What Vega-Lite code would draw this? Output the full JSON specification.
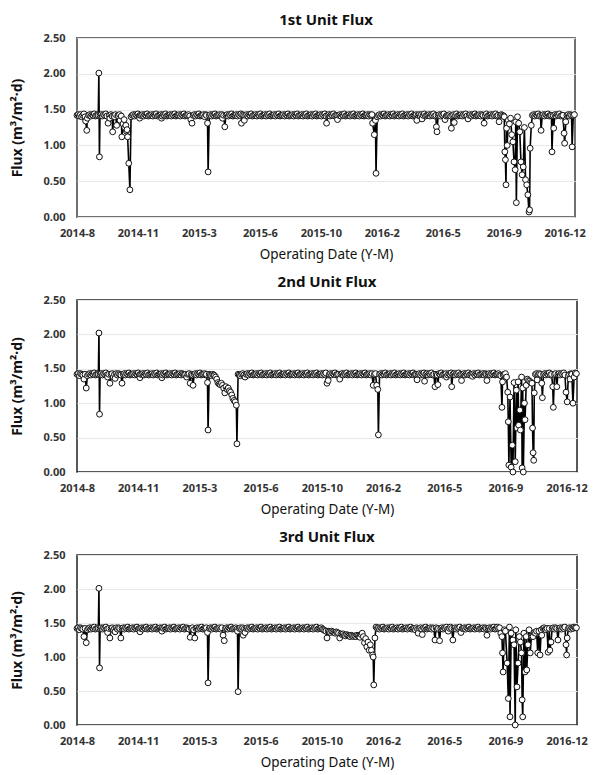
{
"$schema":"https://vega.github.io/schema/vega-lite/v6.json",
"background":"white",
"padding":{"left":9,"top":12,"right":5,"bottom":5},
"spacing":12,
"datasets":{
"p1":[{"d":0,"f":1.42},{"d":2,"f":1.43},{"d":4,"f":1.41},{"d":6,"f":1.43},{"d":8,"f":1.40},{"d":10,"f":1.42},{"d":12,"f":1.44},{"d":14,"f":1.40},{"d":15,"f":1.34},{"d":17,"f":1.21},{"d":18,"f":1.38},{"d":20,"f":1.42},{"d":22,"f":1.43},{"d":24,"f":1.41},{"d":26,"f":1.43},{"d":28,"f":1.42},{"d":30,"f":1.44},{"d":32,"f":1.41},{"d":34,"f":1.42},{"d":36,"f":1.43},{"d":37,"f":1.42},{"d":38,"f":2.01},{"d":39,"f":0.84},{"d":40,"f":1.42},{"d":42,"f":1.43},{"d":44,"f":1.41},{"d":46,"f":1.43},{"d":48,"f":1.42},{"d":50,"f":1.44},{"d":52,"f":1.41},{"d":54,"f":1.31},{"d":56,"f":1.42},{"d":57,"f":1.38},{"d":59,"f":1.43},{"d":61,"f":1.41},{"d":62,"f":1.19},{"d":64,"f":1.42},{"d":65,"f":1.40},{"d":67,"f":1.43},{"d":69,"f":1.28},{"d":71,"f":1.42},{"d":72,"f":1.41},{"d":74,"f":1.43},{"d":75,"f":1.35},{"d":77,"f":1.41},{"d":78,"f":1.12},{"d":80,"f":1.30},{"d":82,"f":1.36},{"d":83,"f":1.25},{"d":85,"f":1.28},{"d":86,"f":1.20},{"d":87,"f":1.22},{"d":88,"f":1.12},{"d":90,"f":0.75},{"d":92,"f":0.38},{"d":94,"f":1.40},{"d":96,"f":1.42},{"d":98,"f":1.43},{"d":100,"f":1.41},{"d":102,"f":1.43},{"d":104,"f":1.42},{"d":106,"f":1.44},{"d":108,"f":1.41},{"d":109,"f":1.38},{"d":110,"f":1.42},{"d":112,"f":1.42},{"d":114,"f":1.43},{"d":116,"f":1.41},{"d":118,"f":1.43},{"d":120,"f":1.42},{"d":122,"f":1.44},{"d":124,"f":1.41},{"d":126,"f":1.42},{"d":128,"f":1.42},{"d":130,"f":1.43},{"d":132,"f":1.41},{"d":134,"f":1.43},{"d":136,"f":1.42},{"d":138,"f":1.44},{"d":140,"f":1.41},{"d":142,"f":1.42},{"d":144,"f":1.42},{"d":146,"f":1.43},{"d":147,"f":1.38},{"d":148,"f":1.41},{"d":150,"f":1.43},{"d":152,"f":1.42},{"d":154,"f":1.44},{"d":156,"f":1.41},{"d":158,"f":1.42},{"d":160,"f":1.42},{"d":162,"f":1.43},{"d":164,"f":1.41},{"d":166,"f":1.43},{"d":168,"f":1.42},{"d":170,"f":1.44},{"d":172,"f":1.41},{"d":174,"f":1.42},{"d":176,"f":1.42},{"d":178,"f":1.43},{"d":180,"f":1.41},{"d":182,"f":1.43},{"d":184,"f":1.42},{"d":186,"f":1.44},{"d":188,"f":1.41},{"d":190,"f":1.42},{"d":192,"f":1.42},{"d":194,"f":1.43},{"d":196,"f":1.41},{"d":198,"f":1.36},{"d":200,"f":1.31},{"d":202,"f":1.42},{"d":204,"f":1.43},{"d":206,"f":1.41},{"d":208,"f":1.43},{"d":210,"f":1.42},{"d":212,"f":1.44},{"d":214,"f":1.41},{"d":216,"f":1.42},{"d":218,"f":1.42},{"d":220,"f":1.43},{"d":222,"f":1.40},{"d":224,"f":1.43},{"d":225,"f":1.42},{"d":227,"f":1.31},{"d":228,"f":0.63},{"d":230,"f":1.42},{"d":232,"f":1.43},{"d":234,"f":1.41},{"d":236,"f":1.43},{"d":238,"f":1.42},{"d":240,"f":1.44},{"d":242,"f":1.41},{"d":244,"f":1.42},{"d":246,"f":1.42},{"d":248,"f":1.43},{"d":250,"f":1.41},{"d":252,"f":1.43},{"d":253,"f":1.38},{"d":255,"f":1.42},{"d":257,"f":1.26},{"d":259,"f":1.42},{"d":261,"f":1.43},{"d":263,"f":1.41},{"d":265,"f":1.43},{"d":267,"f":1.42},{"d":269,"f":1.44},{"d":271,"f":1.41},{"d":273,"f":1.42},{"d":275,"f":1.42},{"d":277,"f":1.43},{"d":279,"f":1.41},{"d":281,"f":1.43},{"d":283,"f":1.42},{"d":285,"f":1.44},{"d":286,"f":1.31},{"d":288,"f":1.43},{"d":290,"f":1.42},{"d":291,"f":1.35},{"d":293,"f":1.42},{"d":295,"f":1.43},{"d":297,"f":1.41},{"d":299,"f":1.43},{"d":301,"f":1.42},{"d":303,"f":1.44},{"d":305,"f":1.41},{"d":307,"f":1.42},{"d":309,"f":1.42},{"d":311,"f":1.43},{"d":313,"f":1.41},{"d":315,"f":1.43},{"d":317,"f":1.42},{"d":319,"f":1.44},{"d":321,"f":1.41},{"d":323,"f":1.42},{"d":325,"f":1.42},{"d":327,"f":1.43},{"d":329,"f":1.41},{"d":331,"f":1.43},{"d":333,"f":1.42},{"d":335,"f":1.44},{"d":337,"f":1.41},{"d":339,"f":1.42},{"d":341,"f":1.42},{"d":343,"f":1.43},{"d":345,"f":1.41},{"d":347,"f":1.43},{"d":349,"f":1.42},{"d":351,"f":1.44},{"d":353,"f":1.41},{"d":355,"f":1.42},{"d":357,"f":1.42},{"d":359,"f":1.43},{"d":361,"f":1.41},{"d":363,"f":1.43},{"d":365,"f":1.42},{"d":367,"f":1.44},{"d":369,"f":1.41},{"d":371,"f":1.42},{"d":373,"f":1.42},{"d":375,"f":1.43},{"d":377,"f":1.41},{"d":379,"f":1.43},{"d":381,"f":1.42},{"d":383,"f":1.44},{"d":385,"f":1.41},{"d":387,"f":1.42},{"d":389,"f":1.42},{"d":391,"f":1.43},{"d":393,"f":1.41},{"d":395,"f":1.43},{"d":397,"f":1.42},{"d":399,"f":1.44},{"d":401,"f":1.41},{"d":403,"f":1.42},{"d":405,"f":1.42},{"d":407,"f":1.43},{"d":409,"f":1.41},{"d":411,"f":1.43},{"d":413,"f":1.42},{"d":415,"f":1.44},{"d":417,"f":1.41},{"d":419,"f":1.42},{"d":421,"f":1.42},{"d":423,"f":1.43},{"d":425,"f":1.41},{"d":427,"f":1.43},{"d":429,"f":1.42},{"d":431,"f":1.44},{"d":433,"f":1.41},{"d":434,"f":1.31},{"d":436,"f":1.42},{"d":438,"f":1.43},{"d":440,"f":1.41},{"d":442,"f":1.43},{"d":444,"f":1.42},{"d":446,"f":1.44},{"d":448,"f":1.41},{"d":450,"f":1.42},{"d":452,"f":1.42},{"d":453,"f":1.36},{"d":455,"f":1.42},{"d":457,"f":1.43},{"d":459,"f":1.41},{"d":461,"f":1.43},{"d":463,"f":1.42},{"d":465,"f":1.44},{"d":467,"f":1.41},{"d":469,"f":1.42},{"d":471,"f":1.42},{"d":473,"f":1.43},{"d":475,"f":1.41},{"d":477,"f":1.43},{"d":479,"f":1.42},{"d":481,"f":1.44},{"d":483,"f":1.41},{"d":485,"f":1.42},{"d":487,"f":1.42},{"d":489,"f":1.43},{"d":491,"f":1.41},{"d":493,"f":1.43},{"d":495,"f":1.42},{"d":497,"f":1.44},{"d":499,"f":1.41},{"d":501,"f":1.42},{"d":503,"f":1.42},{"d":505,"f":1.43},{"d":507,"f":1.41},{"d":509,"f":1.43},{"d":511,"f":1.42},{"d":513,"f":1.43},{"d":514,"f":1.31},{"d":517,"f":1.15},{"d":519,"f":1.35},{"d":520,"f":0.61},{"d":522,"f":1.40},{"d":524,"f":1.42},{"d":526,"f":1.43},{"d":528,"f":1.41},{"d":530,"f":1.43},{"d":532,"f":1.42},{"d":534,"f":1.44},{"d":536,"f":1.41},{"d":538,"f":1.42},{"d":540,"f":1.42},{"d":542,"f":1.43},{"d":544,"f":1.41},{"d":546,"f":1.43},{"d":548,"f":1.42},{"d":550,"f":1.44},{"d":552,"f":1.41},{"d":554,"f":1.42},{"d":556,"f":1.42},{"d":558,"f":1.43},{"d":560,"f":1.41},{"d":562,"f":1.43},{"d":564,"f":1.42},{"d":566,"f":1.44},{"d":568,"f":1.41},{"d":570,"f":1.42},{"d":572,"f":1.42},{"d":574,"f":1.43},{"d":576,"f":1.41},{"d":578,"f":1.43},{"d":580,"f":1.42},{"d":582,"f":1.44},{"d":584,"f":1.41},{"d":586,"f":1.42},{"d":588,"f":1.42},{"d":590,"f":1.43},{"d":591,"f":1.35},{"d":593,"f":1.42},{"d":595,"f":1.43},{"d":597,"f":1.41},{"d":599,"f":1.43},{"d":600,"f":1.37},{"d":602,"f":1.42},{"d":604,"f":1.44},{"d":606,"f":1.41},{"d":608,"f":1.42},{"d":610,"f":1.42},{"d":612,"f":1.43},{"d":614,"f":1.41},{"d":616,"f":1.43},{"d":618,"f":1.42},{"d":620,"f":1.44},{"d":622,"f":1.41},{"d":624,"f":1.42},{"d":625,"f":1.26},{"d":626,"f":1.19},{"d":628,"f":1.42},{"d":630,"f":1.43},{"d":632,"f":1.41},{"d":634,"f":1.43},{"d":636,"f":1.42},{"d":638,"f":1.44},{"d":640,"f":1.36},{"d":642,"f":1.41},{"d":644,"f":1.42},{"d":646,"f":1.42},{"d":648,"f":1.43},{"d":650,"f":1.41},{"d":651,"f":1.24},{"d":653,"f":1.42},{"d":655,"f":1.43},{"d":656,"f":1.32},{"d":658,"f":1.42},{"d":660,"f":1.44},{"d":662,"f":1.41},{"d":664,"f":1.42},{"d":666,"f":1.42},{"d":668,"f":1.43},{"d":670,"f":1.41},{"d":672,"f":1.43},{"d":674,"f":1.42},{"d":676,"f":1.44},{"d":678,"f":1.41},{"d":680,"f":1.37},{"d":682,"f":1.42},{"d":684,"f":1.43},{"d":686,"f":1.41},{"d":688,"f":1.43},{"d":690,"f":1.42},{"d":692,"f":1.44},{"d":694,"f":1.41},{"d":696,"f":1.42},{"d":698,"f":1.42},{"d":700,"f":1.43},{"d":702,"f":1.41},{"d":704,"f":1.43},{"d":706,"f":1.42},{"d":708,"f":1.31},{"d":710,"f":1.42},{"d":712,"f":1.44},{"d":714,"f":1.41},{"d":716,"f":1.42},{"d":718,"f":1.42},{"d":720,"f":1.43},{"d":722,"f":1.41},{"d":724,"f":1.43},{"d":726,"f":1.42},{"d":728,"f":1.44},{"d":730,"f":1.41},{"d":732,"f":1.42},{"d":734,"f":1.33},{"d":736,"f":1.42},{"d":738,"f":1.43},{"d":740,"f":1.42},{"d":742,"f":1.41},{"d":743,"f":1.40},{"d":744,"f":0.91},{"d":745,"f":0.80},{"d":746,"f":0.45},{"d":747,"f":1.24},{"d":748,"f":1.00},{"d":750,"f":1.35},{"d":752,"f":1.30},{"d":754,"f":1.38},{"d":756,"f":1.15},{"d":758,"f":1.05},{"d":760,"f":0.77},{"d":762,"f":0.66},{"d":763,"f":1.33},{"d":764,"f":0.20},{"d":766,"f":1.40},{"d":768,"f":1.31},{"d":770,"f":1.19},{"d":772,"f":0.77},{"d":774,"f":0.59},{"d":776,"f":0.70},{"d":778,"f":1.25},{"d":780,"f":0.52},{"d":782,"f":0.45},{"d":784,"f":0.31},{"d":786,"f":0.07},{"d":787,"f":0.10},{"d":788,"f":0.96},{"d":790,"f":1.28},{"d":792,"f":1.42},{"d":794,"f":1.43},{"d":796,"f":1.41},{"d":798,"f":1.43},{"d":800,"f":1.42},{"d":802,"f":1.44},{"d":804,"f":1.41},{"d":806,"f":1.42},{"d":807,"f":1.21},{"d":809,"f":1.42},{"d":811,"f":1.43},{"d":813,"f":1.41},{"d":815,"f":1.43},{"d":817,"f":1.42},{"d":819,"f":1.44},{"d":821,"f":1.41},{"d":823,"f":1.42},{"d":825,"f":1.42},{"d":826,"f":0.91},{"d":828,"f":1.42},{"d":829,"f":1.24},{"d":831,"f":1.43},{"d":833,"f":1.41},{"d":835,"f":1.43},{"d":837,"f":1.42},{"d":839,"f":1.44},{"d":841,"f":1.41},{"d":843,"f":1.42},{"d":845,"f":1.42},{"d":847,"f":1.17},{"d":848,"f":1.03},{"d":850,"f":1.33},{"d":852,"f":1.42},{"d":854,"f":1.43},{"d":856,"f":1.41},{"d":858,"f":1.43},{"d":860,"f":1.42},{"d":861,"f":0.98},{"d":863,"f":1.42},{"d":865,"f":1.43}],
"p2":[{"d":0,"f":1.42},{"d":2,"f":1.43},{"d":4,"f":1.40},{"d":6,"f":1.43},{"d":8,"f":1.42},{"d":10,"f":1.41},{"d":12,"f":1.35},{"d":14,"f":1.42},{"d":16,"f":1.22},{"d":18,"f":1.40},{"d":20,"f":1.42},{"d":22,"f":1.43},{"d":24,"f":1.41},{"d":26,"f":1.43},{"d":28,"f":1.42},{"d":30,"f":1.44},{"d":32,"f":1.41},{"d":34,"f":1.42},{"d":36,"f":1.43},{"d":37,"f":1.42},{"d":38,"f":2.02},{"d":39,"f":0.84},{"d":40,"f":1.42},{"d":42,"f":1.43},{"d":44,"f":1.41},{"d":46,"f":1.43},{"d":48,"f":1.42},{"d":50,"f":1.44},{"d":52,"f":1.41},{"d":53,"f":1.38},{"d":55,"f":1.42},{"d":57,"f":1.29},{"d":59,"f":1.42},{"d":61,"f":1.43},{"d":63,"f":1.38},{"d":65,"f":1.42},{"d":66,"f":1.36},{"d":68,"f":1.43},{"d":70,"f":1.41},{"d":72,"f":1.43},{"d":74,"f":1.42},{"d":76,"f":1.41},{"d":78,"f":1.29},{"d":80,"f":1.42},{"d":82,"f":1.43},{"d":84,"f":1.41},{"d":86,"f":1.43},{"d":88,"f":1.42},{"d":90,"f":1.44},{"d":92,"f":1.41},{"d":94,"f":1.42},{"d":96,"f":1.42},{"d":98,"f":1.43},{"d":100,"f":1.41},{"d":102,"f":1.43},{"d":104,"f":1.42},{"d":106,"f":1.44},{"d":108,"f":1.41},{"d":109,"f":1.37},{"d":110,"f":1.42},{"d":112,"f":1.42},{"d":114,"f":1.43},{"d":116,"f":1.41},{"d":118,"f":1.43},{"d":120,"f":1.42},{"d":122,"f":1.44},{"d":124,"f":1.41},{"d":126,"f":1.42},{"d":128,"f":1.42},{"d":130,"f":1.43},{"d":132,"f":1.41},{"d":134,"f":1.43},{"d":136,"f":1.42},{"d":138,"f":1.44},{"d":140,"f":1.41},{"d":142,"f":1.42},{"d":144,"f":1.42},{"d":146,"f":1.43},{"d":147,"f":1.37},{"d":148,"f":1.41},{"d":150,"f":1.43},{"d":152,"f":1.42},{"d":154,"f":1.44},{"d":156,"f":1.41},{"d":158,"f":1.42},{"d":160,"f":1.42},{"d":162,"f":1.43},{"d":164,"f":1.41},{"d":166,"f":1.43},{"d":168,"f":1.42},{"d":170,"f":1.44},{"d":172,"f":1.41},{"d":174,"f":1.42},{"d":176,"f":1.42},{"d":178,"f":1.43},{"d":180,"f":1.41},{"d":182,"f":1.43},{"d":184,"f":1.42},{"d":186,"f":1.41},{"d":188,"f":1.42},{"d":190,"f":1.38},{"d":192,"f":1.42},{"d":194,"f":1.43},{"d":196,"f":1.29},{"d":198,"f":1.42},{"d":200,"f":1.41},{"d":201,"f":1.26},{"d":203,"f":1.42},{"d":205,"f":1.43},{"d":207,"f":1.41},{"d":209,"f":1.43},{"d":211,"f":1.42},{"d":213,"f":1.44},{"d":215,"f":1.41},{"d":217,"f":1.42},{"d":219,"f":1.42},{"d":221,"f":1.43},{"d":223,"f":1.41},{"d":224,"f":1.42},{"d":226,"f":1.30},{"d":227,"f":0.61},{"d":229,"f":1.42},{"d":231,"f":1.41},{"d":233,"f":1.40},{"d":235,"f":1.42},{"d":237,"f":1.41},{"d":238,"f":1.40},{"d":240,"f":1.38},{"d":242,"f":1.35},{"d":244,"f":1.30},{"d":246,"f":1.28},{"d":248,"f":1.27},{"d":250,"f":1.29},{"d":252,"f":1.26},{"d":254,"f":1.22},{"d":256,"f":1.15},{"d":258,"f":1.24},{"d":260,"f":1.20},{"d":262,"f":1.22},{"d":264,"f":1.18},{"d":266,"f":1.16},{"d":268,"f":1.12},{"d":270,"f":1.07},{"d":272,"f":1.04},{"d":274,"f":1.02},{"d":276,"f":0.97},{"d":277,"f":0.41},{"d":279,"f":1.42},{"d":281,"f":1.41},{"d":283,"f":1.40},{"d":285,"f":1.42},{"d":287,"f":1.43},{"d":289,"f":1.41},{"d":291,"f":1.38},{"d":293,"f":1.42},{"d":295,"f":1.43},{"d":297,"f":1.41},{"d":299,"f":1.43},{"d":301,"f":1.42},{"d":303,"f":1.44},{"d":305,"f":1.41},{"d":307,"f":1.42},{"d":309,"f":1.42},{"d":311,"f":1.43},{"d":313,"f":1.41},{"d":315,"f":1.43},{"d":317,"f":1.42},{"d":319,"f":1.44},{"d":321,"f":1.41},{"d":323,"f":1.42},{"d":325,"f":1.42},{"d":327,"f":1.43},{"d":329,"f":1.41},{"d":331,"f":1.43},{"d":333,"f":1.42},{"d":335,"f":1.44},{"d":337,"f":1.41},{"d":339,"f":1.42},{"d":341,"f":1.42},{"d":343,"f":1.43},{"d":345,"f":1.41},{"d":347,"f":1.43},{"d":349,"f":1.42},{"d":351,"f":1.44},{"d":353,"f":1.41},{"d":355,"f":1.42},{"d":357,"f":1.42},{"d":359,"f":1.43},{"d":361,"f":1.41},{"d":363,"f":1.43},{"d":365,"f":1.42},{"d":367,"f":1.44},{"d":369,"f":1.41},{"d":371,"f":1.42},{"d":373,"f":1.42},{"d":375,"f":1.43},{"d":377,"f":1.41},{"d":379,"f":1.43},{"d":381,"f":1.42},{"d":383,"f":1.44},{"d":385,"f":1.41},{"d":387,"f":1.42},{"d":389,"f":1.42},{"d":391,"f":1.43},{"d":393,"f":1.41},{"d":395,"f":1.43},{"d":397,"f":1.42},{"d":399,"f":1.44},{"d":401,"f":1.41},{"d":403,"f":1.42},{"d":405,"f":1.42},{"d":407,"f":1.43},{"d":409,"f":1.41},{"d":411,"f":1.43},{"d":413,"f":1.42},{"d":415,"f":1.44},{"d":417,"f":1.41},{"d":419,"f":1.42},{"d":421,"f":1.42},{"d":423,"f":1.43},{"d":425,"f":1.41},{"d":427,"f":1.43},{"d":429,"f":1.42},{"d":431,"f":1.44},{"d":433,"f":1.29},{"d":435,"f":1.33},{"d":437,"f":1.42},{"d":439,"f":1.43},{"d":441,"f":1.41},{"d":443,"f":1.43},{"d":445,"f":1.42},{"d":447,"f":1.44},{"d":449,"f":1.41},{"d":451,"f":1.42},{"d":453,"f":1.42},{"d":455,"f":1.35},{"d":457,"f":1.42},{"d":459,"f":1.43},{"d":461,"f":1.41},{"d":463,"f":1.43},{"d":465,"f":1.42},{"d":467,"f":1.44},{"d":469,"f":1.41},{"d":471,"f":1.42},{"d":473,"f":1.42},{"d":475,"f":1.43},{"d":477,"f":1.41},{"d":479,"f":1.43},{"d":481,"f":1.42},{"d":483,"f":1.44},{"d":485,"f":1.41},{"d":487,"f":1.42},{"d":489,"f":1.42},{"d":491,"f":1.43},{"d":493,"f":1.41},{"d":495,"f":1.43},{"d":497,"f":1.42},{"d":499,"f":1.44},{"d":501,"f":1.41},{"d":503,"f":1.42},{"d":505,"f":1.42},{"d":507,"f":1.43},{"d":509,"f":1.41},{"d":511,"f":1.43},{"d":513,"f":1.26},{"d":515,"f":1.42},{"d":517,"f":1.43},{"d":519,"f":1.26},{"d":521,"f":1.20},{"d":522,"f":0.54},{"d":524,"f":1.42},{"d":526,"f":1.43},{"d":528,"f":1.41},{"d":530,"f":1.43},{"d":532,"f":1.42},{"d":534,"f":1.44},{"d":536,"f":1.41},{"d":538,"f":1.42},{"d":540,"f":1.42},{"d":542,"f":1.43},{"d":544,"f":1.41},{"d":546,"f":1.43},{"d":548,"f":1.42},{"d":550,"f":1.44},{"d":552,"f":1.41},{"d":554,"f":1.42},{"d":556,"f":1.42},{"d":558,"f":1.43},{"d":560,"f":1.41},{"d":562,"f":1.43},{"d":564,"f":1.42},{"d":566,"f":1.44},{"d":568,"f":1.41},{"d":570,"f":1.42},{"d":572,"f":1.42},{"d":574,"f":1.43},{"d":576,"f":1.41},{"d":578,"f":1.43},{"d":580,"f":1.42},{"d":582,"f":1.44},{"d":584,"f":1.41},{"d":586,"f":1.42},{"d":588,"f":1.42},{"d":589,"f":1.34},{"d":591,"f":1.42},{"d":593,"f":1.43},{"d":595,"f":1.41},{"d":597,"f":1.43},{"d":599,"f":1.42},{"d":601,"f":1.44},{"d":602,"f":1.32},{"d":604,"f":1.42},{"d":606,"f":1.43},{"d":608,"f":1.41},{"d":610,"f":1.43},{"d":612,"f":1.42},{"d":614,"f":1.44},{"d":616,"f":1.41},{"d":618,"f":1.42},{"d":620,"f":1.24},{"d":622,"f":1.42},{"d":624,"f":1.41},{"d":625,"f":1.27},{"d":627,"f":1.43},{"d":629,"f":1.42},{"d":631,"f":1.44},{"d":633,"f":1.41},{"d":635,"f":1.42},{"d":637,"f":1.42},{"d":639,"f":1.43},{"d":640,"f":1.38},{"d":642,"f":1.41},{"d":644,"f":1.43},{"d":646,"f":1.42},{"d":648,"f":1.44},{"d":649,"f":1.24},{"d":651,"f":1.42},{"d":653,"f":1.43},{"d":655,"f":1.41},{"d":657,"f":1.43},{"d":659,"f":1.42},{"d":661,"f":1.44},{"d":663,"f":1.41},{"d":665,"f":1.42},{"d":666,"f":1.33},{"d":668,"f":1.42},{"d":670,"f":1.43},{"d":672,"f":1.41},{"d":674,"f":1.43},{"d":676,"f":1.42},{"d":678,"f":1.44},{"d":680,"f":1.41},{"d":682,"f":1.42},{"d":684,"f":1.42},{"d":685,"f":1.39},{"d":687,"f":1.43},{"d":689,"f":1.41},{"d":691,"f":1.43},{"d":693,"f":1.42},{"d":695,"f":1.44},{"d":697,"f":1.41},{"d":699,"f":1.42},{"d":701,"f":1.42},{"d":703,"f":1.43},{"d":705,"f":1.41},{"d":707,"f":1.43},{"d":709,"f":1.42},{"d":710,"f":1.33},{"d":712,"f":1.42},{"d":714,"f":1.43},{"d":716,"f":1.41},{"d":718,"f":1.43},{"d":720,"f":1.42},{"d":722,"f":1.44},{"d":724,"f":1.41},{"d":726,"f":1.42},{"d":728,"f":1.42},{"d":730,"f":1.43},{"d":732,"f":1.41},{"d":734,"f":1.40},{"d":736,"f":0.94},{"d":737,"f":1.31},{"d":738,"f":1.41},{"d":740,"f":1.42},{"d":742,"f":1.43},{"d":744,"f":1.38},{"d":746,"f":1.16},{"d":747,"f":0.73},{"d":748,"f":0.10},{"d":750,"f":1.09},{"d":752,"f":0.07},{"d":754,"f":0.39},{"d":755,"f":0.00},{"d":757,"f":1.30},{"d":759,"f":0.15},{"d":761,"f":1.19},{"d":762,"f":0.64},{"d":764,"f":1.31},{"d":765,"f":0.68},{"d":767,"f":0.90},{"d":768,"f":0.61},{"d":770,"f":1.38},{"d":771,"f":0.06},{"d":772,"f":1.22},{"d":773,"f":0.00},{"d":775,"f":1.00},{"d":776,"f":0.76},{"d":778,"f":1.26},{"d":780,"f":1.35},{"d":782,"f":1.33},{"d":784,"f":1.32},{"d":786,"f":1.30},{"d":788,"f":1.29},{"d":789,"f":0.64},{"d":790,"f":0.28},{"d":791,"f":0.17},{"d":792,"f":1.15},{"d":794,"f":1.42},{"d":796,"f":1.43},{"d":797,"f":1.34},{"d":799,"f":1.42},{"d":801,"f":1.43},{"d":803,"f":1.42},{"d":805,"f":1.29},{"d":806,"f":1.08},{"d":808,"f":1.42},{"d":810,"f":1.43},{"d":812,"f":1.41},{"d":814,"f":1.43},{"d":816,"f":1.42},{"d":818,"f":1.44},{"d":820,"f":1.41},{"d":822,"f":1.42},{"d":824,"f":1.24},{"d":825,"f":0.94},{"d":827,"f":1.42},{"d":829,"f":1.43},{"d":831,"f":1.24},{"d":833,"f":1.42},{"d":835,"f":1.43},{"d":837,"f":1.41},{"d":839,"f":1.43},{"d":841,"f":1.42},{"d":843,"f":1.44},{"d":845,"f":1.41},{"d":847,"f":1.16},{"d":849,"f":1.02},{"d":851,"f":1.40},{"d":853,"f":1.42},{"d":854,"f":1.35},{"d":856,"f":1.43},{"d":857,"f":1.42},{"d":859,"f":1.00},{"d":861,"f":1.38},{"d":863,"f":1.44},{"d":865,"f":1.43}],
"p3":[{"d":0,"f":1.42},{"d":2,"f":1.43},{"d":4,"f":1.40},{"d":6,"f":1.43},{"d":8,"f":1.42},{"d":10,"f":1.41},{"d":12,"f":1.30},{"d":14,"f":1.42},{"d":16,"f":1.21},{"d":18,"f":1.40},{"d":20,"f":1.42},{"d":22,"f":1.43},{"d":24,"f":1.41},{"d":26,"f":1.43},{"d":28,"f":1.42},{"d":30,"f":1.44},{"d":32,"f":1.41},{"d":34,"f":1.42},{"d":36,"f":1.43},{"d":37,"f":1.42},{"d":38,"f":2.01},{"d":39,"f":0.84},{"d":40,"f":1.42},{"d":42,"f":1.43},{"d":44,"f":1.41},{"d":46,"f":1.43},{"d":48,"f":1.42},{"d":50,"f":1.44},{"d":52,"f":1.41},{"d":53,"f":1.36},{"d":55,"f":1.42},{"d":57,"f":1.28},{"d":59,"f":1.42},{"d":61,"f":1.43},{"d":63,"f":1.40},{"d":65,"f":1.42},{"d":66,"f":1.37},{"d":68,"f":1.43},{"d":70,"f":1.41},{"d":72,"f":1.43},{"d":74,"f":1.42},{"d":76,"f":1.28},{"d":78,"f":1.42},{"d":80,"f":1.43},{"d":82,"f":1.41},{"d":84,"f":1.43},{"d":86,"f":1.42},{"d":88,"f":1.44},{"d":90,"f":1.41},{"d":92,"f":1.42},{"d":94,"f":1.42},{"d":96,"f":1.43},{"d":98,"f":1.41},{"d":100,"f":1.43},{"d":102,"f":1.42},{"d":104,"f":1.44},{"d":106,"f":1.41},{"d":108,"f":1.42},{"d":109,"f":1.37},{"d":110,"f":1.42},{"d":112,"f":1.43},{"d":114,"f":1.41},{"d":116,"f":1.43},{"d":118,"f":1.42},{"d":120,"f":1.44},{"d":122,"f":1.41},{"d":124,"f":1.42},{"d":126,"f":1.42},{"d":128,"f":1.43},{"d":130,"f":1.41},{"d":132,"f":1.43},{"d":134,"f":1.42},{"d":136,"f":1.44},{"d":138,"f":1.41},{"d":140,"f":1.42},{"d":142,"f":1.42},{"d":144,"f":1.43},{"d":146,"f":1.41},{"d":147,"f":1.38},{"d":148,"f":1.43},{"d":150,"f":1.42},{"d":152,"f":1.44},{"d":154,"f":1.41},{"d":156,"f":1.42},{"d":158,"f":1.42},{"d":160,"f":1.43},{"d":162,"f":1.41},{"d":164,"f":1.43},{"d":166,"f":1.42},{"d":168,"f":1.44},{"d":170,"f":1.41},{"d":172,"f":1.42},{"d":174,"f":1.42},{"d":176,"f":1.43},{"d":178,"f":1.41},{"d":180,"f":1.43},{"d":182,"f":1.42},{"d":184,"f":1.44},{"d":186,"f":1.41},{"d":188,"f":1.42},{"d":190,"f":1.43},{"d":192,"f":1.42},{"d":194,"f":1.41},{"d":196,"f":1.29},{"d":198,"f":1.42},{"d":200,"f":1.43},{"d":202,"f":1.40},{"d":204,"f":1.28},{"d":206,"f":1.42},{"d":208,"f":1.43},{"d":210,"f":1.41},{"d":212,"f":1.43},{"d":214,"f":1.42},{"d":216,"f":1.44},{"d":218,"f":1.41},{"d":220,"f":1.42},{"d":222,"f":1.42},{"d":224,"f":1.43},{"d":226,"f":1.36},{"d":227,"f":0.62},{"d":229,"f":1.42},{"d":231,"f":1.43},{"d":233,"f":1.41},{"d":235,"f":1.43},{"d":237,"f":1.42},{"d":239,"f":1.44},{"d":241,"f":1.41},{"d":243,"f":1.42},{"d":245,"f":1.42},{"d":247,"f":1.43},{"d":249,"f":1.41},{"d":251,"f":1.43},{"d":253,"f":1.32},{"d":255,"f":1.24},{"d":257,"f":1.42},{"d":259,"f":1.43},{"d":261,"f":1.41},{"d":263,"f":1.43},{"d":265,"f":1.42},{"d":267,"f":1.44},{"d":269,"f":1.41},{"d":271,"f":1.42},{"d":273,"f":1.42},{"d":275,"f":1.43},{"d":277,"f":1.41},{"d":278,"f":1.38},{"d":279,"f":0.49},{"d":281,"f":1.42},{"d":283,"f":1.43},{"d":285,"f":1.41},{"d":287,"f":1.43},{"d":288,"f":1.32},{"d":290,"f":1.42},{"d":291,"f":1.36},{"d":293,"f":1.42},{"d":295,"f":1.43},{"d":297,"f":1.41},{"d":299,"f":1.43},{"d":301,"f":1.42},{"d":303,"f":1.44},{"d":305,"f":1.41},{"d":307,"f":1.42},{"d":309,"f":1.42},{"d":311,"f":1.43},{"d":313,"f":1.41},{"d":315,"f":1.43},{"d":317,"f":1.42},{"d":319,"f":1.44},{"d":321,"f":1.41},{"d":323,"f":1.42},{"d":325,"f":1.42},{"d":327,"f":1.43},{"d":329,"f":1.41},{"d":331,"f":1.43},{"d":333,"f":1.42},{"d":335,"f":1.44},{"d":337,"f":1.41},{"d":339,"f":1.42},{"d":341,"f":1.42},{"d":343,"f":1.43},{"d":345,"f":1.41},{"d":347,"f":1.43},{"d":349,"f":1.42},{"d":351,"f":1.44},{"d":353,"f":1.41},{"d":355,"f":1.42},{"d":357,"f":1.42},{"d":359,"f":1.43},{"d":361,"f":1.41},{"d":363,"f":1.43},{"d":365,"f":1.42},{"d":367,"f":1.44},{"d":369,"f":1.41},{"d":371,"f":1.42},{"d":373,"f":1.42},{"d":375,"f":1.43},{"d":377,"f":1.41},{"d":379,"f":1.43},{"d":381,"f":1.42},{"d":383,"f":1.44},{"d":385,"f":1.41},{"d":387,"f":1.42},{"d":389,"f":1.42},{"d":391,"f":1.43},{"d":393,"f":1.41},{"d":395,"f":1.43},{"d":397,"f":1.42},{"d":399,"f":1.44},{"d":401,"f":1.41},{"d":403,"f":1.42},{"d":405,"f":1.42},{"d":407,"f":1.43},{"d":409,"f":1.41},{"d":411,"f":1.43},{"d":413,"f":1.42},{"d":415,"f":1.44},{"d":417,"f":1.41},{"d":419,"f":1.42},{"d":421,"f":1.42},{"d":423,"f":1.43},{"d":425,"f":1.41},{"d":427,"f":1.40},{"d":429,"f":1.39},{"d":431,"f":1.38},{"d":433,"f":1.28},{"d":435,"f":1.38},{"d":437,"f":1.37},{"d":439,"f":1.36},{"d":441,"f":1.38},{"d":443,"f":1.37},{"d":445,"f":1.36},{"d":447,"f":1.35},{"d":449,"f":1.37},{"d":451,"f":1.36},{"d":453,"f":1.35},{"d":455,"f":1.28},{"d":457,"f":1.34},{"d":459,"f":1.33},{"d":461,"f":1.34},{"d":463,"f":1.32},{"d":465,"f":1.31},{"d":467,"f":1.33},{"d":469,"f":1.32},{"d":471,"f":1.31},{"d":473,"f":1.30},{"d":475,"f":1.32},{"d":477,"f":1.31},{"d":479,"f":1.30},{"d":481,"f":1.31},{"d":483,"f":1.30},{"d":485,"f":1.32},{"d":487,"f":1.31},{"d":489,"f":1.30},{"d":490,"f":1.29},{"d":492,"f":1.33},{"d":494,"f":1.35},{"d":496,"f":1.30},{"d":498,"f":1.21},{"d":500,"f":1.27},{"d":502,"f":1.15},{"d":504,"f":1.22},{"d":506,"f":1.10},{"d":508,"f":1.18},{"d":510,"f":1.10},{"d":512,"f":1.03},{"d":513,"f":1.00},{"d":514,"f":0.59},{"d":516,"f":1.28},{"d":518,"f":1.44},{"d":520,"f":1.42},{"d":522,"f":1.43},{"d":524,"f":1.41},{"d":526,"f":1.43},{"d":528,"f":1.42},{"d":530,"f":1.44},{"d":532,"f":1.41},{"d":534,"f":1.42},{"d":536,"f":1.42},{"d":538,"f":1.43},{"d":540,"f":1.41},{"d":542,"f":1.43},{"d":544,"f":1.42},{"d":546,"f":1.44},{"d":548,"f":1.41},{"d":550,"f":1.42},{"d":552,"f":1.42},{"d":554,"f":1.43},{"d":556,"f":1.41},{"d":558,"f":1.43},{"d":560,"f":1.42},{"d":562,"f":1.44},{"d":564,"f":1.41},{"d":566,"f":1.42},{"d":568,"f":1.42},{"d":570,"f":1.43},{"d":572,"f":1.41},{"d":574,"f":1.43},{"d":576,"f":1.42},{"d":578,"f":1.44},{"d":580,"f":1.41},{"d":582,"f":1.42},{"d":584,"f":1.42},{"d":586,"f":1.40},{"d":588,"f":1.43},{"d":590,"f":1.41},{"d":591,"f":1.35},{"d":593,"f":1.42},{"d":595,"f":1.43},{"d":597,"f":1.41},{"d":598,"f":1.33},{"d":600,"f":1.43},{"d":602,"f":1.42},{"d":604,"f":1.44},{"d":606,"f":1.41},{"d":608,"f":1.42},{"d":610,"f":1.42},{"d":612,"f":1.43},{"d":614,"f":1.41},{"d":616,"f":1.43},{"d":618,"f":1.42},{"d":620,"f":1.25},{"d":622,"f":1.43},{"d":624,"f":1.41},{"d":626,"f":1.42},{"d":628,"f":1.24},{"d":630,"f":1.42},{"d":632,"f":1.43},{"d":634,"f":1.41},{"d":636,"f":1.43},{"d":638,"f":1.42},{"d":640,"f":1.44},{"d":642,"f":1.41},{"d":643,"f":1.38},{"d":645,"f":1.42},{"d":647,"f":1.44},{"d":649,"f":1.42},{"d":651,"f":1.25},{"d":653,"f":1.42},{"d":655,"f":1.43},{"d":657,"f":1.41},{"d":659,"f":1.43},{"d":661,"f":1.42},{"d":663,"f":1.44},{"d":665,"f":1.36},{"d":667,"f":1.42},{"d":669,"f":1.42},{"d":671,"f":1.43},{"d":673,"f":1.41},{"d":675,"f":1.43},{"d":677,"f":1.42},{"d":679,"f":1.44},{"d":681,"f":1.41},{"d":683,"f":1.42},{"d":685,"f":1.42},{"d":687,"f":1.43},{"d":689,"f":1.41},{"d":691,"f":1.43},{"d":693,"f":1.42},{"d":695,"f":1.44},{"d":697,"f":1.41},{"d":699,"f":1.42},{"d":701,"f":1.42},{"d":703,"f":1.43},{"d":705,"f":1.41},{"d":707,"f":1.43},{"d":709,"f":1.42},{"d":710,"f":1.32},{"d":712,"f":1.42},{"d":714,"f":1.43},{"d":716,"f":1.41},{"d":718,"f":1.43},{"d":720,"f":1.42},{"d":722,"f":1.44},{"d":724,"f":1.41},{"d":726,"f":1.42},{"d":728,"f":1.44},{"d":730,"f":1.42},{"d":732,"f":1.43},{"d":734,"f":1.35},{"d":736,"f":1.30},{"d":737,"f":1.06},{"d":738,"f":0.78},{"d":740,"f":1.40},{"d":742,"f":1.38},{"d":745,"f":0.91},{"d":747,"f":0.39},{"d":749,"f":1.44},{"d":750,"f":0.12},{"d":752,"f":1.35},{"d":755,"f":1.25},{"d":757,"f":1.18},{"d":759,"f":0.00},{"d":760,"f":1.40},{"d":762,"f":0.56},{"d":764,"f":0.91},{"d":766,"f":1.30},{"d":768,"f":1.22},{"d":770,"f":1.06},{"d":771,"f":0.37},{"d":772,"f":0.12},{"d":774,"f":1.35},{"d":776,"f":0.78},{"d":778,"f":1.30},{"d":779,"f":0.81},{"d":781,"f":1.18},{"d":783,"f":1.40},{"d":785,"f":1.06},{"d":787,"f":1.31},{"d":788,"f":1.30},{"d":790,"f":1.30},{"d":792,"f":1.36},{"d":794,"f":1.35},{"d":796,"f":1.38},{"d":798,"f":1.06},{"d":800,"f":1.38},{"d":802,"f":1.03},{"d":804,"f":1.40},{"d":805,"f":1.32},{"d":807,"f":1.42},{"d":809,"f":1.43},{"d":811,"f":1.41},{"d":812,"f":1.40},{"d":814,"f":1.42},{"d":816,"f":1.07},{"d":818,"f":1.42},{"d":819,"f":1.10},{"d":821,"f":1.22},{"d":823,"f":1.42},{"d":825,"f":1.43},{"d":827,"f":1.41},{"d":829,"f":1.43},{"d":831,"f":1.42},{"d":833,"f":1.25},{"d":835,"f":1.42},{"d":837,"f":1.43},{"d":839,"f":1.41},{"d":841,"f":1.43},{"d":843,"f":1.42},{"d":845,"f":1.44},{"d":847,"f":1.18},{"d":848,"f":1.03},{"d":849,"f":1.28},{"d":851,"f":1.42},{"d":853,"f":1.43},{"d":855,"f":1.41},{"d":857,"f":1.43},{"d":859,"f":1.42},{"d":861,"f":1.44},{"d":863,"f":1.43},{"d":865,"f":1.43}]
},
"vconcat":[
{"title":{"text":"1st Unit Flux"},"width":498,"height":179,"data":{"name":"p1"},
 "view":{"stroke":"#707070","strokeWidth":2},
 "mark":{"type":"line","color":"#000000","strokeWidth":1.6,"point":{"filled":true,"fill":"white","stroke":"#111111","strokeWidth":1,"size":34,"opacity":1}},
 "encoding":{
  "x":{"field":"d","type":"quantitative","scale":{"domain":[0,866],"nice":false,"zero":false},"axis":{"title":"Operating Date (Y-M)","values":[0,106,212,318,424,530,636,742,848],"labelExpr":"['2014-8','2014-11','2015-3','2015-6','2015-10','2016-2','2016-5','2016-9','2016-12'][round(datum.value/106)]"}},
  "y":{"field":"f","type":"quantitative","scale":{"domain":[0,2.5],"nice":false},"axis":{"title":"Flux (m³/m²·d)","values":[0,0.5,1,1.5,2,2.5],"format":".2f"}}
 }},
{"title":{"text":"2nd Unit Flux"},"width":500,"height":172,"data":{"name":"p2"},
 "view":{"stroke":"#222222","strokeWidth":1.5},
 "mark":{"type":"line","color":"#000000","strokeWidth":1.6,"point":{"filled":true,"fill":"white","stroke":"#111111","strokeWidth":1,"size":34,"opacity":1}},
 "encoding":{
  "x":{"field":"d","type":"quantitative","scale":{"domain":[0,866],"nice":false,"zero":false},"axis":{"title":"Operating Date (Y-M)","values":[0,106,212,318,424,530,636,742,848],"labelExpr":"['2014-8','2014-11','2015-3','2015-6','2015-10','2016-2','2016-5','2016-9','2016-12'][round(datum.value/106)]"}},
  "y":{"field":"f","type":"quantitative","scale":{"domain":[0,2.5],"nice":false},"axis":{"title":"Flux (m³/m²·d)","values":[0,0.5,1,1.5,2,2.5],"format":".2f"}}
 }},
{"title":{"text":"3rd Unit Flux"},"width":500,"height":170,"data":{"name":"p3"},
 "view":{"stroke":"#222222","strokeWidth":1.5},
 "mark":{"type":"line","color":"#000000","strokeWidth":1.6,"point":{"filled":true,"fill":"white","stroke":"#111111","strokeWidth":1,"size":34,"opacity":1}},
 "encoding":{
  "x":{"field":"d","type":"quantitative","scale":{"domain":[0,866],"nice":false,"zero":false},"axis":{"title":"Operating Date (Y-M)","values":[0,106,212,318,424,530,636,742,848],"labelExpr":"['2014-8','2014-11','2015-3','2015-6','2015-10','2016-2','2016-5','2016-9','2016-12'][round(datum.value/106)]"}},
  "y":{"field":"f","type":"quantitative","scale":{"domain":[0,2.5],"nice":false},"axis":{"title":"Flux (m³/m²·d)","values":[0,0.5,1,1.5,2,2.5],"format":".2f"}}
 }}
],
"config":{
 "font":"Noto Sans",
 "title":{"fontSize":15,"fontWeight":"bold","color":"#111111","offset":4,"anchor":"middle"},
 "axis":{"ticks":false,"domain":false,"labelFontWeight":"bold","labelFontSize":11,"labelColor":"#333333","titleColor":"#111111"},
 "axisX":{"grid":false,"labelPadding":10,"labelFlush":false,"titleFontSize":13.5,"titleFontWeight":"normal","titlePadding":9},
 "axisY":{"grid":true,"gridColor":"#e8e8e8","gridWidth":1,"labelPadding":12,"titleFontSize":14,"titleFontWeight":"bold","titlePadding":19}
}
}
